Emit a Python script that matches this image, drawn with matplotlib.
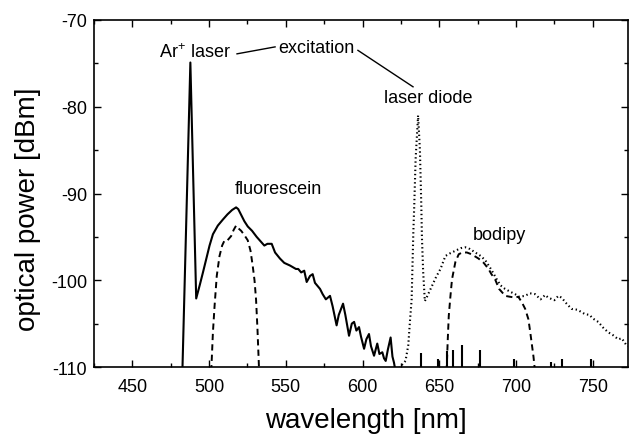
import matplotlib
matplotlib.use("Agg")
import matplotlib.pyplot as plt
from matplotlib.ticker import MultipleLocator

plt.rcParams['font.family'] = ['Liberation Sans', 'DejaVu Sans']
plt.rcParams['axes.unicode_minus'] = False
plt.rcParams['lines.scale_dashes'] = False
plt.rcParams['mathtext.fontset'] = 'custom'
plt.rcParams['mathtext.rm'] = 'Liberation Sans'
plt.rcParams['mathtext.it'] = 'Liberation Sans'

# Fluorescein emission + Ar+ laser line (solid)
fluo_wl = [482.6, 487.8, 491.6, 494.0, 496.0, 500.3, 502.5, 505.7, 509.0, 512.0,
           515.0, 517.6, 519.0, 521.0, 523.0, 525.2, 528.0, 531.0, 534.0, 536.0,
           538.0, 540.8, 543.0, 546.2, 549.0, 552.7, 556.6, 558.1, 560.0, 562.0,
           563.6, 565.8, 567.5, 569.0, 572.3, 574.0, 576.1, 578.8, 580.5, 583.1,
           584.5, 587.3, 588.8, 591.2, 593.0, 594.5, 596.0, 597.7, 599.0, 601.0,
           602.5, 604.2, 605.5, 607.5, 609.6, 611.0, 612.9, 614.0, 615.1, 616.5,
           618.3, 619.5, 620.5, 621.5]
fluo_pw = [-110.5, -74.9, -102.1, -100.5, -99.1, -96.0, -94.7, -93.7, -93.0, -92.4,
           -91.9, -91.6, -91.8, -92.5, -93.2, -93.8, -94.3, -95.0, -95.6, -96.0,
           -95.8, -95.8, -96.8, -97.5, -98.0, -98.3, -98.7, -98.7, -99.1, -98.9,
           -100.2, -99.5, -99.3, -100.3, -101.0, -101.6, -102.2, -101.8, -103.0, -105.2,
           -104.0, -102.7, -104.0, -106.4, -105.0, -104.8, -105.8, -105.4, -106.5, -107.9,
           -106.8, -106.2, -107.6, -108.7, -107.3, -108.5, -108.3, -109.0, -109.3, -108.0,
           -106.6, -108.8, -109.5, -110.5]

# Noise-floor spikes of the solid trace
spike_wl = [637.8, 649.0, 655.1, 658.8, 664.8, 676.3, 698.4, 723.0, 730.0, 748.8]
spike_pw = [-108.4, -109.1, -108.1, -108.0, -107.5, -108.0, -109.1, -109.4, -109.1, -109.1]

# Fluorescein filtered (dashed)
fluof_wl = [501.4, 502.5, 503.6, 505.0, 506.8, 508.5, 510.1, 512.0, 514.4, 516.0,
            517.6, 519.0, 520.9, 523.0, 525.2, 527.0, 528.4, 529.6, 530.6, 531.5,
            532.3, 532.6]
fluof_pw = [-110.5, -106.0, -102.9, -99.5, -97.2, -96.0, -95.4, -95.4, -94.9, -94.2,
            -93.7, -94.0, -94.3, -94.8, -95.4, -96.6, -98.3, -100.0, -102.2, -105.5,
            -109.1, -110.5]

# Laser diode + bodipy emission (dotted)
bod_wl = [622.0, 625.0, 628.0, 629.8, 631.0, 632.0, 633.1, 633.7, 634.6, 636.2,
          637.4, 638.3, 638.7, 639.5, 640.6, 642.0, 645.4, 648.0, 650.8, 654.0,
          657.0, 660.5, 664.0, 667.0, 670.0, 673.5, 677.0, 680.0, 684.0, 687.5,
          690.0, 692.9, 696.0, 699.4, 702.0, 705.9, 709.0, 712.4, 716.0, 719.0,
          721.0, 725.0, 727.6, 729.7, 733.0, 736.2, 740.0, 744.9, 748.0, 750.0,
          753.6, 757.0, 760.1, 763.0, 766.6, 769.0, 772.0, 773.0]
bod_pw = [-110.5, -109.9, -109.3, -107.5, -104.5, -102.2, -94.5, -91.4, -86.0, -81.0,
          -85.0, -91.4, -95.0, -99.0, -102.4, -101.9, -100.6, -99.6, -98.7, -97.2,
          -96.9, -96.6, -96.3, -96.2, -96.4, -96.8, -97.2, -97.7, -98.8, -99.9,
          -100.6, -101.0, -101.3, -101.6, -101.9, -101.8, -101.5, -101.6, -102.2, -101.7,
          -102.0, -102.3, -101.8, -102.0, -102.7, -103.3, -103.4, -103.9, -104.0, -104.4,
          -104.8, -105.5, -106.0, -106.3, -106.8, -106.7, -107.5, -107.6]

# Bodipy filtered (dashed)
bodf_wl = [654.8, 655.5, 656.2, 657.3, 658.3, 660.5, 662.7, 665.0, 668.0, 671.0,
           675.6, 679.0, 682.1, 684.0, 686.4, 689.0, 693.0, 696.0, 699.4, 701.5,
           703.7, 706.0, 708.1, 709.3, 710.2, 711.4, 712.4]
bodf_pw = [-110.5, -107.0, -104.1, -101.8, -99.9, -97.9, -97.0, -96.8, -96.8, -97.0,
           -97.5, -98.0, -98.7, -99.3, -99.9, -101.0, -101.8, -101.9, -102.0, -101.9,
           -102.5, -103.3, -104.5, -106.0, -107.2, -108.8, -110.5]

xticks = [450, 500, 550, 600, 650, 700, 750]
yticks = [-110, -100, -90, -80, -70]

fig = plt.figure(figsize=(6.31, 4.39), dpi=100)
ax = fig.add_axes([94/631, 1-368/439, (628-94)/631, (368-21)/439])

ax.plot(fluo_wl, fluo_pw, color='black', lw=1.5)
ax.vlines(spike_wl, -110, spike_pw, color='black', lw=1.5)
ax.plot(fluof_wl, fluof_pw, color='black', lw=1.4, linestyle=(0, (4.5, 3)))
ax.plot(bod_wl, bod_pw, color='black', lw=1.5, linestyle=(0, (1, 2)))
ax.plot(bodf_wl, bodf_pw, color='black', lw=1.4, linestyle=(0, (4.5, 3)))

ax.set_xlim(425, 773)
ax.set_ylim(-110, -70)
ax.set_xticks(xticks)
ax.set_yticks(yticks)
ax.xaxis.set_minor_locator(MultipleLocator(25))
ax.yaxis.set_minor_locator(MultipleLocator(5))
ax.tick_params(which='both', direction='in', top=True, right=True, labelsize=13, width=1.0)
ax.tick_params(which='major', length=5)
ax.tick_params(which='minor', length=3)
ax.tick_params(axis='x', pad=8)
ax.tick_params(axis='y', pad=5)
for s in ax.spines.values():
    s.set_linewidth(1.2)

ax.set_xlabel('wavelength [nm]', fontsize=20, va='center')
ax.xaxis.set_label_coords(0.509, -0.153)
ax.set_ylabel('optical power [dBm]', fontsize=20, va='center')
ax.yaxis.set_label_coords((28-94)/534, (368-209)/347)

fs = 13
ax.text(490.8, -73.7, 'Ar$^{+}$ laser', fontsize=fs, ha='center', va='center')
ax.text(569.7, -73.2, 'excitation', fontsize=fs, ha='center', va='center')
ax.text(642.7, -78.9, 'laser diode', fontsize=fs, ha='center', va='center')
ax.text(544.9, -89.4, 'fluorescein', fontsize=fs, ha='center', va='center')
ax.text(688.9, -94.7, 'bodipy', fontsize=fs, ha='center', va='center')
ax.plot([518.2, 543.0], [-73.9, -73.1], color='black', lw=1.0)
ax.plot([597.0, 632.9], [-73.5, -77.7], color='black', lw=1.0)

fig.savefig('out.png', dpi=100)
